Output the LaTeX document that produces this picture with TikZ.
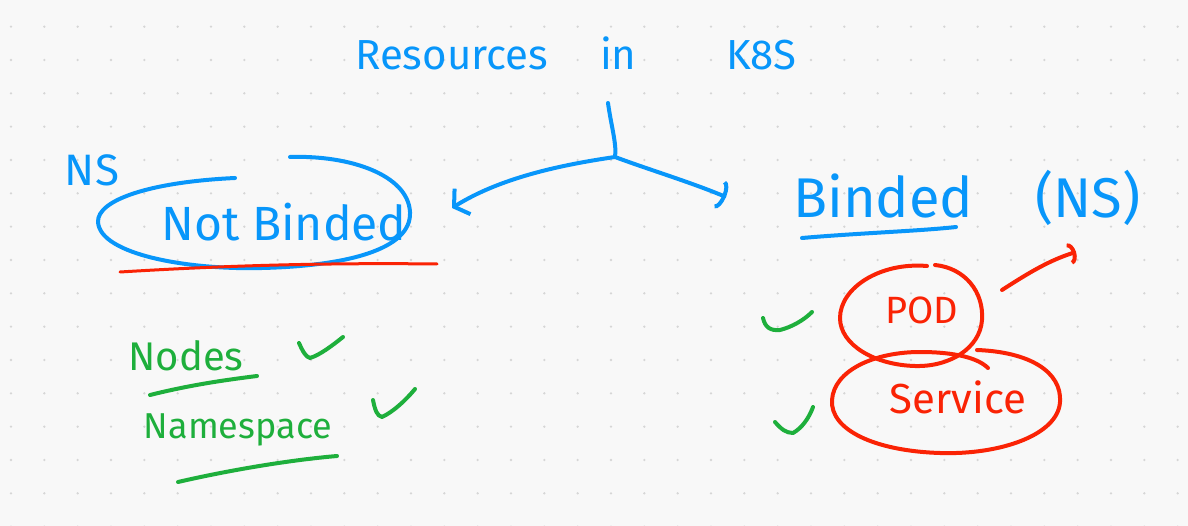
\documentclass[tikz,border=0pt]{standalone}
\usepackage{fontspec}
\setmainfont{Fira Sans}
\usetikzlibrary{arrows.meta}
\definecolor{inkblue}{RGB}{8,150,250}
\definecolor{inkred}{RGB}{250,35,5}
\definecolor{inkgreen}{RGB}{30,175,60}
\definecolor{paper}{RGB}{248,248,248}
\definecolor{griddot}{RGB}{214,214,214}
\begin{document}
\begin{tikzpicture}[x=1pt,y=-1pt,
  ink/.style={line width=4pt, line cap=round, line join=round},
  blueink/.style={ink, draw=inkblue},
  redink/.style={ink, draw=inkred},
  greenink/.style={ink, draw=inkgreen},
  lbl/.style={inner sep=0pt},
  bluetext/.style={lbl, text=inkblue},
  redtext/.style={lbl, text=inkred},
  greentext/.style={lbl, text=inkgreen},
  tick/.style={greenink}
]
\fill[paper] (0,0) rectangle (1188,526);
\useasboundingbox (0,0) rectangle (1188,526);
\foreach \i in {0,...,35} {\foreach \j in {0,...,15} {\fill[griddot] ({11+33.333*\i},{26.667+33.333*\j}) circle[radius=1.3pt];}}

% title
\node[bluetext, anchor=base west, font=\fontsize{42}{50}\selectfont] (title) at (355,70) {Resources\hspace{52pt}in\hspace{90pt}K8S};
\coordinate (stemtop) at (608,103);
\coordinate (fork) at (615,157);
\coordinate (lefttip) at (452,208);
\coordinate (righttip) at (726,197);
\draw[blueink] (stemtop) .. controls (611,125) and (617,145) .. (fork);
\draw[blueink, -{Straight Barb[length=10pt,width=30pt,line width=4pt]}] (fork) .. controls (560,165) and (500,178) .. (lefttip);
\draw[blueink, -{Arc Barb[length=7pt,width=30pt,line width=4pt]}] (fork) .. controls (650,170) and (690,182) .. (righttip);

% NS + Not Binded
\node[bluetext, font=\fontsize{44}{50}\selectfont] (ns) at (92,170) {NS};
\node[bluetext, font=\fontsize{48}{56}\selectfont] (notbinded) at (284,222) {Not Binded};
\draw[blueink] (235,178) .. controls (150,182) and (97,200) .. (98,222)
   .. controls (100,255) and (190,270) .. (262,268)
   .. controls (345,266) and (412,250) .. (410,212)
   .. controls (408,175) and (350,155) .. (290,157);
\draw[redink, line width=3pt] (120,272) .. controls (250,264) and (350,263) .. (437,264);

% Binded (NS)
\node[bluetext, anchor=base west, font=\fontsize{56}{64}\selectfont] (binded) at (793,218) {Binded\hspace{62pt}(NS)};
\draw[blueink] (802,238) .. controls (860,233) and (920,231) .. (956,227);

% POD and Service
\node[redtext, font=\fontsize{38}{44}\selectfont] (pod) at (922,310) {POD};
\node[redtext, font=\fontsize{42}{50}\selectfont] (service) at (958,397) {Service};
\draw[redink] (935,265) .. controls (965,268) and (984,292) .. (982,320)
   .. controls (980,348) and (950,367) .. (915,366)
   .. controls (875,365) and (840,345) .. (840,318)
   .. controls (840,288) and (880,262) .. (927,266);
\draw[redink] (977,350) .. controls (1030,352) and (1062,372) .. (1060,402)
   .. controls (1058,435) and (1000,455) .. (940,453)
   .. controls (875,451) and (830,430) .. (832,400)
   .. controls (834,370) and (875,352) .. (920,352)
   .. controls (955,352) and (978,358) .. (988,368);
\coordinate (redtip) at (1076,252);
\draw[redink, -{Arc Barb[length=7pt,width=22pt,line width=4pt]}] (1002,290) .. controls (1030,272) and (1050,260) .. (redtip);

% Nodes, Namespace
\node[greentext, font=\fontsize{40}{48}\selectfont] (nodes) at (186,356) {Nodes};
\node[greentext, font=\fontsize{36}{44}\selectfont] (namespace) at (238,430) {Namespace};
\draw[greenink] (150,395) .. controls (190,385) and (225,380) .. (257,376);
\draw[greenink] (178,482) .. controls (230,470) and (290,460) .. (337,456);

% ticks
\draw[tick] (299,343) .. controls (303,352) and (306,357) .. (310,358) .. controls (320,355) and (333,345) .. (343,337);
\draw[tick] (373,400) .. controls (375,410) and (377,416) .. (382,417) .. controls (393,412) and (406,400) .. (415,389);
\draw[tick] (763,318) .. controls (765,327) and (770,331) .. (780,330) .. controls (792,327) and (804,320) .. (812,312);
\draw[tick] (775,422) .. controls (781,429) and (786,433) .. (793,433) .. controls (802,428) and (809,418) .. (813,407);
\end{tikzpicture}
\end{document}
